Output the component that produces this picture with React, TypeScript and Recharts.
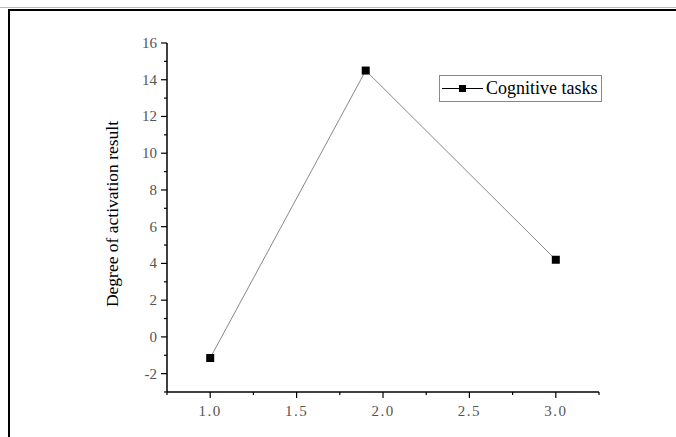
import { LineChart, Line, XAxis, YAxis } from 'recharts';

// x positions and measured activation values
const xValues = [1.0, 1.9, 3.0];
const activation = [-1.15, 14.5, 4.2];

const xTicks = [0.75, 1, 1.25, 1.5, 1.75, 2, 2.25, 2.5, 2.75, 3, 3.25];
const xLabels = [1, 1.5, 2, 2.5, 3];
const yTicks = [-3, -2, -1, 0, 1, 2, 3, 4, 5, 6, 7, 8, 9, 10, 11, 12, 13, 14, 15, 16];
const yLabels = [-2, 0, 2, 4, 6, 8, 10, 12, 14, 16];

const seriesName = 'Cognitive tasks';
const yTitle = 'Degree of activation result';

const data = xValues.map((x, i) => ({ x, value: activation[i] }));

const tickFont = '"Liberation Serif", "DejaVu Serif", serif';
const tickColor = '#555';

const XTick = (props: any) => {
  const { x, y, payload } = props;
  const major = xLabels.includes(payload.value);
  return (
    <g>
      <line x1={x} y1={y} x2={x} y2={y + (major ? 6 : 3)} stroke="#000" strokeWidth={1.2} />
      {major && (
        <text x={x} y={y + 24} textAnchor="middle" fontSize={15} fontFamily={tickFont} fill={tickColor} letterSpacing={1.5}>
          {payload.value.toFixed(1)}
        </text>
      )}
    </g>
  );
};

const YTick = (props: any) => {
  const { x, y, payload } = props;
  const major = yLabels.includes(payload.value);
  return (
    <g>
      <line x1={x} y1={y} x2={x - (major ? 6 : 3)} y2={y} stroke="#000" strokeWidth={1.2} />
      {major && (
        <text x={x - 10} y={y} textAnchor="end" dominantBaseline="central" fontSize={15} fontFamily={tickFont} fill={tickColor}>
          {payload.value}
        </text>
      )}
    </g>
  );
};

const SquareDot = (props: any) => {
  const { cx, cy } = props;
  if (cx == null || cy == null) return null;
  return <rect x={cx - 4} y={cy - 4} width={8} height={8} fill="#000" />;
};

const LegendBox = () => (
  <div
    style={{
      position: 'absolute',
      left: 439,
      top: 75,
      width: 161,
      height: 25,
      border: '1px solid #888',
      display: 'flex',
      alignItems: 'center',
      background: '#fff',
    }}
  >
    <svg width={46} height={25}>
      <line x1={2} y1={12.5} x2={43} y2={12.5} stroke="#000" strokeWidth={1} />
      <rect x={19} y={9} width={7} height={7} fill="#000" />
    </svg>
    <span style={{ fontFamily: tickFont, fontSize: 18, color: '#000', whiteSpace: 'nowrap' }}>{seriesName}</span>
  </div>
);

export default function App() {
  return (
    <div style={{ position: 'absolute', left: 0, top: 0, width: 676, height: 437, background: '#fff', overflow: 'hidden' }}>
      {/* outer frame of the figure */}
      <div style={{ position: 'absolute', left: 0, top: 7, width: 676, height: 1, background: '#bbb' }} />
      <div style={{ position: 'absolute', left: 8, top: 9, width: 668, height: 2, background: '#000' }} />
      <div style={{ position: 'absolute', left: 8, top: 9, width: 2, height: 428, background: '#000' }} />

      <LineChart
        width={676}
        height={437}
        data={data}
        margin={{ top: 43, right: 77, bottom: 15, left: 0 }}
        style={{ position: 'absolute', left: 0, top: 0 }}
      >
        <XAxis
          dataKey="x"
          type="number"
          domain={[0.75, 3.25]}
          ticks={xTicks}
          interval={0}
          tickSize={0}
          tickMargin={0}
          tick={<XTick />}
          axisLine={{ stroke: '#000', strokeWidth: 1.5 }}
          height={30}
          allowDataOverflow
        />
        <YAxis
          type="number"
          domain={[-3, 16]}
          ticks={yTicks}
          interval={0}
          tickSize={0}
          tickMargin={0}
          tick={<YTick />}
          axisLine={{ stroke: '#000', strokeWidth: 1.5 }}
          width={167}
          allowDataOverflow
          label={{
            content: () => (
              <text
                x={112}
                y={214}
                transform="rotate(-90 112 214)"
                textAnchor="middle"
                dominantBaseline="central"
                fontSize={17.5}
                fontFamily={tickFont}
                fill="#000"
              >
                {yTitle}
              </text>
            ),
          }}
        />
        <Line
          dataKey="value"
          name={seriesName}
          stroke="#888"
          strokeWidth={1}
          dot={<SquareDot />}
          activeDot={false}
          isAnimationActive={false}
        />
      </LineChart>
      <LegendBox />
    </div>
  );
}
